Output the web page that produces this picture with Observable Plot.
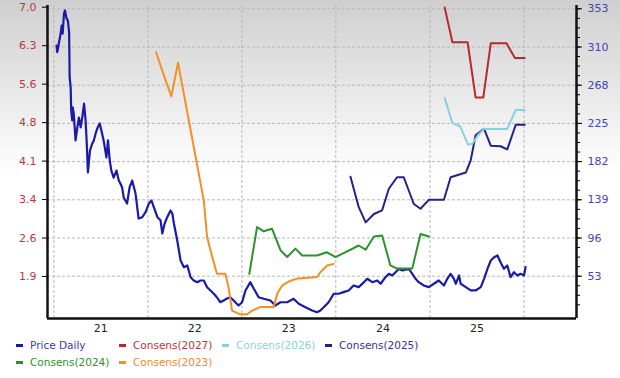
<!DOCTYPE html>
<html><head><meta charset="utf-8">
<script src="https://cdn.jsdelivr.net/npm/d3@7"></script>
<script src="https://cdn.jsdelivr.net/npm/@observablehq/plot@0.6"></script>
<style>
html,body{margin:0;padding:0;background:#fff;}
#wrap{position:relative;width:620px;height:378px;overflow:hidden;
  background:linear-gradient(to bottom,#cfcfcf 0px,#ffffff 175px,#ffffff 378px);
  font-family:"DejaVu Sans",sans-serif;}
#wrap svg{position:absolute;left:0;top:0;background:transparent !important;}
.lg{position:absolute;font-size:10.5px;line-height:14px;white-space:nowrap;}
.lg i{position:absolute;left:0;top:6px;width:7px;height:3px;}
.lg span{position:absolute;left:14px;top:0;}
</style></head>
<body><div id="wrap"></div>
<script>
// ---------- data ----------
const priceDates = ["2021-01-11","2021-01-14","2021-01-20","2021-01-27","2021-01-31","2021-02-04","2021-02-09","2021-02-13","2021-02-19","2021-02-24","2021-03-01","2021-03-03","2021-03-07","2021-03-09","2021-03-13","2021-03-15","2021-03-19","2021-03-26","2021-04-02","2021-04-08","2021-04-15","2021-04-21","2021-04-28","2021-05-04","2021-05-08","2021-05-13","2021-05-21","2021-05-30","2021-06-05","2021-06-12","2021-06-20","2021-06-28","2021-07-07","2021-07-13","2021-07-24","2021-07-30","2021-08-06","2021-08-12","2021-08-21","2021-09-01","2021-09-10","2021-09-16","2021-09-23","2021-09-29","2021-10-12","2021-10-22","2021-11-01","2021-11-14","2021-11-26","2021-12-10","2021-12-23","2022-01-05","2022-01-15","2022-01-24","2022-02-07","2022-02-19","2022-02-26","2022-03-07","2022-03-17","2022-03-30","2022-04-06","2022-04-12","2022-04-25","2022-05-08","2022-05-21","2022-06-03","2022-06-16","2022-06-28","2022-07-12","2022-07-24","2022-08-06","2022-08-19","2022-09-01","2022-09-13","2022-09-26","2022-10-09","2022-10-22","2022-11-04","2022-11-17","2022-11-30","2022-12-19","2023-01-02","2023-01-15","2023-02-03","2023-02-16","2023-03-07","2023-03-27","2023-04-22","2023-05-11","2023-05-31","2023-06-26","2023-07-21","2023-08-10","2023-09-05","2023-10-01","2023-10-20","2023-11-02","2023-11-15","2023-12-04","2023-12-24","2024-01-12","2024-01-31","2024-02-20","2024-03-10","2024-03-30","2024-04-19","2024-05-02","2024-05-22","2024-06-10","2024-06-23","2024-07-12","2024-07-25","2024-08-07","2024-08-20","2024-09-02","2024-09-15","2024-09-28","2024-10-11","2024-10-24","2024-11-06","2024-11-18","2024-12-08","2024-12-27","2025-01-16","2025-02-04","2025-02-24","2025-03-09","2025-03-22","2025-04-04","2025-04-11","2025-04-24","2025-04-30","2025-05-20","2025-06-08","2025-06-27","2025-07-17","2025-07-30","2025-08-12","2025-08-25","2025-09-07","2025-09-20","2025-10-02","2025-10-15","2025-10-28","2025-11-10","2025-11-23","2025-12-06","2025-12-19","2026-01-01","2026-01-07"];
const priceValues = [312.1,304.6,314.3,325.5,334.5,325.5,348.0,351.4,342.4,340.2,326.7,276.2,265.0,239.2,228.0,242.6,235.9,205.6,220.2,231.3,220.2,231.3,247.0,228.0,205.6,169.7,194.3,202.2,205.6,213.4,220.2,224.6,213.4,205.6,186.5,205.6,183.0,171.8,163.9,171.8,160.6,157.2,152.8,141.5,134.8,153.1,160.6,146.0,118.0,119.5,125.1,134.9,138.2,130.7,119.5,116.1,101.2,112.4,119.5,127.0,123.6,112.4,93.3,70.9,63.4,65.3,52.2,48.5,46.6,48.5,48.5,41.0,37.3,33.9,29.7,24.1,26.0,28.3,29.7,26.0,20.4,24.1,37.3,46.6,39.5,29.7,28.0,26.0,20.4,24.1,24.1,28.0,22.3,18.5,14.8,12.9,14.8,18.5,24.1,33.6,33.6,35.4,37.3,42.9,41.0,46.6,50.4,46.6,48.5,44.8,52.2,56.0,54.1,57.8,61.6,59.7,60.5,61.6,56.0,50.4,46.6,42.9,41.0,44.8,48.5,42.9,50.4,56.0,50.4,44.8,54.1,44.8,41.0,37.3,37.3,41.0,50.4,61.6,70.9,74.6,76.5,69.0,61.6,65.3,52.2,57.8,54.1,56.0,54.1,63.4];

const c2023Dates = ["2022-02-02","2022-03-04","2022-04-02","2022-04-28","2022-08-06","2022-08-19","2022-09-01","2022-09-26","2022-10-29","2022-11-10","2022-11-24","2022-12-26","2023-01-21","2023-02-10","2023-03-14","2023-05-05","2023-05-18","2023-06-07","2023-07-09","2023-08-04","2023-10-20","2023-11-02","2023-11-28","2023-12-24"];
const c2023Values = [6.17,5.73,5.33,5.97,3.35,2.65,2.40,1.95,1.95,1.70,1.25,1.18,1.18,1.25,1.32,1.32,1.57,1.73,1.82,1.86,1.89,1.98,2.11,2.14];

const c2024Dates = ["2023-01-30","2023-03-01","2023-03-27","2023-04-28","2023-05-31","2023-06-26","2023-07-28","2023-08-23","2023-10-20","2023-11-28","2023-12-31","2024-02-14","2024-03-30","2024-04-26","2024-05-28","2024-06-29","2024-07-31","2024-08-26","2024-10-24","2024-11-25","2024-12-27"];
const c2024Values = [1.95,2.84,2.76,2.81,2.40,2.27,2.43,2.30,2.30,2.36,2.27,2.38,2.49,2.41,2.66,2.68,2.11,2.05,2.05,2.71,2.66];

const c2025Dates = ["2024-02-27","2024-03-30","2024-04-26","2024-05-28","2024-06-29","2024-07-25","2024-08-26","2024-09-21","2024-10-30","2024-11-25","2024-12-27","2025-02-24","2025-03-22","2025-05-20","2025-06-08","2025-06-27","2025-07-30","2025-08-25","2025-10-02","2025-10-28","2025-11-30","2026-01-04"];
const c2025Values = [3.80,3.22,2.93,3.09,3.16,3.57,3.79,3.79,3.28,3.19,3.36,3.36,3.79,3.88,4.11,4.59,4.71,4.39,4.38,4.32,4.79,4.79];

const c2026Dates = ["2025-02-27","2025-03-29","2025-04-28","2025-05-29","2025-06-15","2025-07-06","2025-07-30","2025-10-28","2025-11-30","2026-01-04"];
const c2026Values = [5.30,4.82,4.76,4.41,4.43,4.59,4.71,4.71,5.07,5.07];

const c2027Dates = ["2025-02-27","2025-03-29","2025-05-27","2025-06-27","2025-07-27","2025-08-25","2025-10-25","2025-11-27","2026-01-04"];
const c2027Values = [7.02,6.36,6.36,5.31,5.31,6.34,6.34,6.06,6.06];

const leftTickValues = [1.9,2.6325,3.365,4.0975,4.83,5.5625,6.295,7.0275];
const leftTickLabels = ["1.9","2.6","3.4","4.1","4.8","5.6","6.3","7.0"];
const rightTickValues = [53.3,96.15,139.0,181.85,224.7,267.55,310.4,353.25];
const rightTickLabels = ["53","96","139","182","225","268","310","353"];
const yearStarts = ["2021-01-01","2022-01-01","2023-01-01","2024-01-01","2025-01-01","2026-01-01"];
const xLabelDates = ["2021-07-02","2022-07-02","2023-07-02","2024-07-02","2025-07-02"];
const xLabels = ["21","22","23","24","25"];

const legendNames = ["Price Daily","Consens(2027)","Consens(2026)","Consens(2025)","Consens(2024)","Consens(2023)"];
const legendColors = ["#1a1aa8","#b52a2a","#8ccfe0","#22228a","#2a932a","#f39025"];
const legendTextColors = ["#3a3ab8","#b83535","#90cfe0","#33338f","#2f8f2f","#f08a2a"];

// ---------- build ----------
const W = 620, H = 336;
const M = {marginTop:5, marginBottom:18, marginLeft:47, marginRight:44};
const xDomain = [new Date("2020-12-07"), new Date("2026-07-24")];
const toRows = (ds, vs) => vs.map((v,i)=>({date:new Date(ds[i]), v}));
const style = {background:"transparent", fontFamily:"DejaVu Sans, sans-serif", fontSize:"11px", overflow:"visible"};

// minor ticks on right axis (subdivisions of the major ticks)
const step = (rightTickValues[1]-rightTickValues[0])/4;
const minorTicks = d3.range(rightTickValues[0]-3*step, rightTickValues[rightTickValues.length-1]+1, step);

const pricePlot = Plot.plot({
  width: W, height: H, ...M, style,
  x: {type:"utc", domain: xDomain, axis: null},
  y: {domain:[5.85, 356.95], axis: null},
  marks: [
    Plot.gridX(yearStarts.map(d=>new Date(d)), {stroke:"#b8b8b8", strokeOpacity:1, strokeDasharray:"3,2"}),
    Plot.gridY(rightTickValues, {stroke:"#b8b8b8", strokeOpacity:1, strokeDasharray:"3,2"}),
    Plot.line(toRows(priceDates, priceValues), {x:"date", y:"v", stroke: legendColors[0], strokeWidth:2.2}),
    Plot.axisY(minorTicks, {anchor:"right", tickSize:3, stroke:"#000", fill:"none", tickFormat:()=>""}),
    Plot.axisY(rightTickValues, {anchor:"right", tickSize:5, tickPadding:6, stroke:"#000", fill:"#4545b0",
      tickFormat:(d,i)=>rightTickLabels[i], fontSize:11, label:null})
  ]
});

const lineStyle = {strokeWidth:2, strokeLinejoin:"round"};
const epsPlot = Plot.plot({
  width: W, height: H, ...M, style,
  x: {type:"utc", domain: xDomain, axis: null},
  y: {domain:[1.10, 7.06], axis: null},
  marks: [
    Plot.line(toRows(c2023Dates, c2023Values), {x:"date", y:"v", stroke: legendColors[5], ...lineStyle}),
    Plot.line(toRows(c2024Dates, c2024Values), {x:"date", y:"v", stroke: legendColors[4], ...lineStyle}),
    Plot.line(toRows(c2025Dates, c2025Values), {x:"date", y:"v", stroke: legendColors[3], ...lineStyle}),
    Plot.line(toRows(c2026Dates, c2026Values), {x:"date", y:"v", stroke: legendColors[2], ...lineStyle}),
    Plot.line(toRows(c2027Dates, c2027Values), {x:"date", y:"v", stroke: legendColors[1], ...lineStyle}),
    Plot.axisY(leftTickValues, {anchor:"left", tickSize:5, tickPadding:6, stroke:"#000", fill:"#b83a3a",
      tickFormat:(d,i)=>leftTickLabels[i], fontSize:11, label:null}),
    Plot.axisX(xLabelDates.map(d=>new Date(d)), {anchor:"bottom", tickSize:0, tickPadding:6, fill:"#222",
      tickFormat:(d,i)=>xLabels[i], fontSize:11, label:null}),
    Plot.ruleX([xDomain[0]], {stroke:"#111", strokeWidth:2.5}),
    Plot.ruleX([xDomain[1]], {stroke:"#111", strokeWidth:2.5}),
    Plot.ruleY([1.10], {stroke:"#111", strokeWidth:2.5})
  ]
});

const wrap = document.getElementById("wrap");
wrap.appendChild(pricePlot);
wrap.appendChild(epsPlot);

// legend
legendNames.forEach((name, i) => {
  const col = i % 4, row = Math.floor(i / 4);
  const el = document.createElement("div");
  el.className = "lg";
  el.style.left = (16 + col*103) + "px";
  el.style.top = (338 + row*17) + "px";
  el.innerHTML = `<i style="background:${legendColors[i]}"></i><span style="color:${legendTextColors[i]}">${name}</span>`;
  wrap.appendChild(el);
});
</script>
</body></html>
